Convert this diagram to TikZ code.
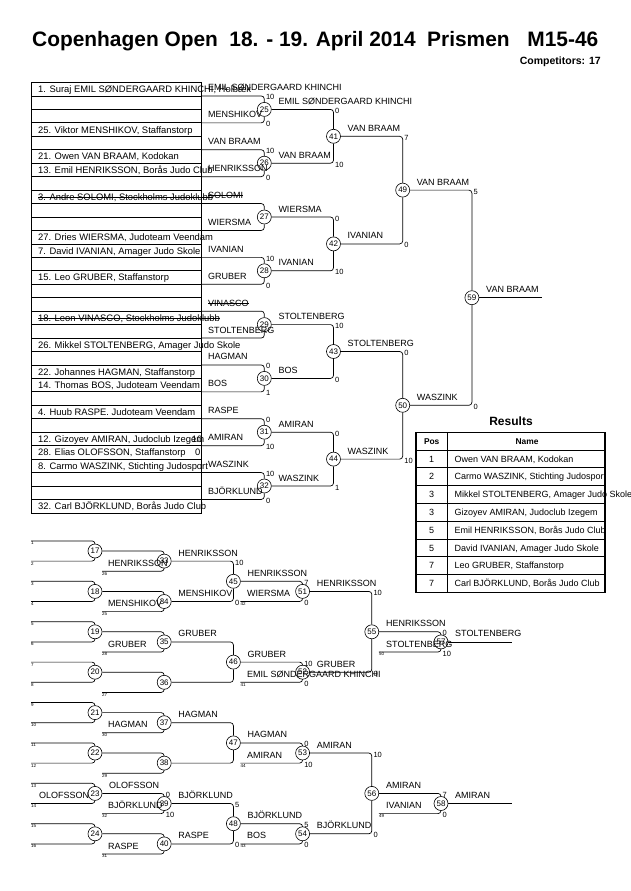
\documentclass[tikz,border=0pt]{standalone}
\usepackage{fontspec}
\setmainfont{Liberation Sans}
\usetikzlibrary{backgrounds}

\tikzset{
  bout/.style={circle,draw,fill=white,line width=0.6pt,inner sep=0pt,minimum size=14pt,font=\fontsize{8}{8}\selectfont},
  judoka/.style={anchor=base west,inner sep=0pt,font=\fontsize{9}{9}\selectfont},
  seed/.style={anchor=base west,inner sep=0pt,font=\fontsize{9.4}{9.4}\selectfont},
  pts/.style={anchor=base west,inner sep=0pt,font=\fontsize{7.5}{7.5}\selectfont},
  slotno/.style={anchor=north west,inner sep=0pt,font=\fontsize{4.5}{4.5}\selectfont},
  wire/.style={line width=0.7pt,rounded corners=3pt},
  sheet/.style={line width=0.8pt},
  struck/.style={line width=0.5pt},
}

\begin{document}
\begin{tikzpicture}[x=1pt,y=-1pt]
\useasboundingbox (0,0) rectangle (630,891);

% header
\node[anchor=base west,inner sep=0pt,font=\fontsize{20.9}{24}\selectfont\bfseries] (title) at (32,46.5) {Copenhagen Open\hspace{0.55em}18. - 19. April 2014\hspace{0.55em}Prismen\hspace{0.85em}M15-46};
\node[anchor=base east,inner sep=0pt,font=\fontsize{10.5}{11}\selectfont\bfseries] (count) at (601,64) {Competitors: 17};

% draw sheet
\draw[sheet] (31,82.5) rectangle (201.7,512.9);
\foreach \k in {1,...,31}
  \draw[sheet] (31,{82.5+13.45*\k}) -- (201.7,{82.5+13.45*\k});

\node[seed] (s1) at (38,92.6) {1. Suraj EMIL SØNDERGAARD KHINCHI, Holbæk};
\node[seed] (s4) at (38,133.0) {25. Viktor MENSHIKOV, Staffanstorp};
\node[seed] (s6) at (38,159.9) {21. Owen VAN BRAAM, Kodokan};
\node[seed] (s7) at (38,173.3) {13. Emil HENRIKSSON, Borås Judo Club};
\node[seed] (s9) at (38,200.2) {3. Andre SOLOMI, Stockholms Judoklubb};
\node[seed] (s12) at (38,240.6) {27. Dries WIERSMA, Judoteam Veendam};
\node[seed] (s13) at (38,254.0) {7. David IVANIAN, Amager Judo Skole};
\node[seed] (s15) at (38,280.9) {15. Leo GRUBER, Staffanstorp};
\node[seed] (s18) at (38,321.3) {18. Leon VINASCO, Stockholms Judoklubb};
\node[seed] (s20) at (38,348.2) {26. Mikkel STOLTENBERG, Amager Judo Skole};
\node[seed] (s22) at (38,375.1) {22. Johannes HAGMAN, Staffanstorp};
\node[seed] (s23) at (38,388.5) {14. Thomas BOS, Judoteam Veendam};
\node[seed] (s25) at (38,415.4) {4. Huub RASPE. Judoteam Veendam};
\node[seed] (s27) at (38,442.3) {12. Gizoyev AMIRAN, Judoclub Izegem};
\node[seed] (s28) at (38,455.8) {28. Elias OLOFSSON, Staffanstorp};
\node[seed] (s29) at (38,469.2) {8. Carmo WASZINK, Stichting Judosport};
\node[seed] (s32) at (38,509.6) {32. Carl BJÖRKLUND, Borås Judo Club};
\node[seed,anchor=base east] (p27) at (202.5,442.3) {10};
\node[seed,anchor=base east] (p28) at (200.5,455.8) {0};
\draw[struck] ([yshift=3.2pt]s9.base west) -- ([yshift=3.2pt]s9.base east);
\draw[struck] ([yshift=3.2pt]s18.base west) -- ([yshift=3.2pt]s18.base east);

% main bouts
\node[bout] (m25) at (264.3,109.4) {25};
\node[bout] (m26) at (264.3,163.2) {26};
\node[bout] (m27) at (264.3,217.0) {27};
\node[bout] (m28) at (264.3,270.8) {28};
\node[bout] (m29) at (264.3,324.6) {29};
\node[bout] (m30) at (264.3,378.4) {30};
\node[bout] (m31) at (264.3,432.2) {31};
\node[bout] (m32) at (264.3,486.0) {32};
\node[bout] (m41) at (333.5,136.3) {41};
\node[bout] (m42) at (333.5,243.9) {42};
\node[bout] (m43) at (333.5,351.5) {43};
\node[bout] (m44) at (333.5,459.1) {44};
\node[bout] (m49) at (402.7,190.1) {49};
\node[bout] (m50) at (402.7,405.3) {50};
\node[bout] (m59) at (471.9,297.7) {59};

% repechage bouts
\foreach \n/\y/\s/\t in {17/551.0/1/2,18/591.4/3/4,19/631.8/5/6,20/672.2/7/8,21/712.6/9/10,22/753.0/11/12,23/793.4/13/14,24/833.8/15/16}{
  \node[bout] (r\n) at (95,\y) {\n};
  \node[slotno] (n\s) at (31,{\y-9.5}) {\s};
  \node[slotno] (n\t) at (31,{\y+10.7}) {\t};
}
\node[bout] (r33) at (164.2,561.1) {33};
\node[bout] (r34) at (164.2,601.5) {34};
\node[bout] (r35) at (164.2,641.9) {35};
\node[bout] (r36) at (164.2,682.3) {36};
\node[bout] (r37) at (164.2,722.7) {37};
\node[bout] (r38) at (164.2,763.1) {38};
\node[bout] (r39) at (164.2,803.5) {39};
\node[bout] (r40) at (164.2,843.9) {40};
\node[bout] (r45) at (233.4,581.3) {45};
\node[bout] (r46) at (233.4,662.1) {46};
\node[bout] (r47) at (233.4,742.9) {47};
\node[bout] (r48) at (233.4,823.7) {48};
\node[bout] (r51) at (302.6,591.4) {51};
\node[bout] (r52) at (302.6,672.2) {52};
\node[bout] (r53) at (302.6,753.0) {53};
\node[bout] (r54) at (302.6,833.8) {54};
\node[bout] (r55) at (371.8,631.8) {55};
\node[bout] (r56) at (371.8,793.4) {56};
\node[bout] (r57) at (441.0,641.9) {57};
\node[bout] (r58) at (441.0,803.5) {58};

\begin{scope}[on background layer]
% main tree
\draw[wire] (201.7,95.95) coordinate (a25) -| (m25);
\draw[wire] (201.7,122.85) coordinate (b25) -| (m25);
\draw[wire] (201.7,149.75) coordinate (a26) -| (m26);
\draw[wire] (201.7,176.65) coordinate (b26) -| (m26);
\draw[wire] (201.7,203.55) coordinate (a27) -| (m27);
\draw[wire] (201.7,230.45) coordinate (b27) -| (m27);
\draw[wire] (201.7,257.35) coordinate (a28) -| (m28);
\draw[wire] (201.7,284.25) coordinate (b28) -| (m28);
\draw[wire] (201.7,311.15) coordinate (a29) -| (m29);
\draw[wire] (201.7,338.05) coordinate (b29) -| (m29);
\draw[wire] (201.7,364.95) coordinate (a30) -| (m30);
\draw[wire] (201.7,391.85) coordinate (b30) -| (m30);
\draw[wire] (201.7,418.75) coordinate (a31) -| (m31);
\draw[wire] (201.7,445.65) coordinate (b31) -| (m31);
\draw[wire] (201.7,472.55) coordinate (a32) -| (m32);
\draw[wire] (201.7,499.45) coordinate (b32) -| (m32);
\draw[wire] (m25) -| (m41); \draw[wire] (m26) -| (m41);
\draw[wire] (m27) -| (m42); \draw[wire] (m28) -| (m42);
\draw[wire] (m29) -| (m43); \draw[wire] (m30) -| (m43);
\draw[wire] (m31) -| (m44); \draw[wire] (m32) -| (m44);
\draw[wire] (m41) -| (m49); \draw[wire] (m42) -| (m49);
\draw[wire] (m43) -| (m50); \draw[wire] (m44) -| (m50);
\draw[wire] (m49) -| (m59); \draw[wire] (m50) -| (m59);
\draw[wire] (m59) -- (541.7,297.7) coordinate (champ);
% repechage tree
\foreach \n/\y in {17/551.0,18/591.4,19/631.8,20/672.2,21/712.6,22/753.0,23/793.4,24/833.8}{
  \draw[wire] (31,{\y-10.1}) coordinate (a\n) -| (r\n);
  \draw[wire] (31,{\y+10.1}) coordinate (b\n) -| (r\n);
}
\draw[wire] (r17) -| (r33); \draw[wire] (102,571.2) coordinate (b33) -| (r33);
\draw[wire] (r18) -| (r34); \draw[wire] (102,611.6) coordinate (b34) -| (r34);
\draw[wire] (r19) -| (r35); \draw[wire] (102,652.0) coordinate (b35) -| (r35);
\draw[wire] (r20) -| (r36); \draw[wire] (102,692.4) coordinate (b36) -| (r36);
\draw[wire] (r21) -| (r37); \draw[wire] (102,732.8) coordinate (b37) -| (r37);
\draw[wire] (r22) -| (r38); \draw[wire] (102,773.2) coordinate (b38) -| (r38);
\draw[wire] (r23) -| (r39); \draw[wire] (102,813.6) coordinate (b39) -| (r39);
\draw[wire] (r24) -| (r40); \draw[wire] (102,854.0) coordinate (b40) -| (r40);
\draw[wire] (r33) -| (r45); \draw[wire] (r34) -| (r45);
\draw[wire] (r35) -| (r46); \draw[wire] (r36) -| (r46);
\draw[wire] (r37) -| (r47); \draw[wire] (r38) -| (r47);
\draw[wire] (r39) -| (r48); \draw[wire] (r40) -| (r48);
\draw[wire] (r45) -| (r51); \draw[wire] (240.4,601.5) coordinate (b51) -| (r51);
\draw[wire] (r46) -| (r52); \draw[wire] (240.4,682.3) coordinate (b52) -| (r52);
\draw[wire] (r47) -| (r53); \draw[wire] (240.4,763.1) coordinate (b53) -| (r53);
\draw[wire] (r48) -| (r54); \draw[wire] (240.4,843.9) coordinate (b54) -| (r54);
\draw[wire] (r51) -| (r55); \draw[wire] (r52) -| (r55);
\draw[wire] (r53) -| (r56); \draw[wire] (r54) -| (r56);
\draw[wire] (r55) -| (r57); \draw[wire] (378.8,652.0) coordinate (b57) -| (r57);
\draw[wire] (r56) -| (r58); \draw[wire] (378.8,813.6) coordinate (b58) -| (r58);
\draw[wire] (r57) -- (511.7,641.9) coordinate (bronze1);
\draw[wire] (r58) -- (511.7,803.5) coordinate (bronze2);
\end{scope}

% names going into the main bouts
\node[judoka] (e25a) at (208,90.95) {EMIL SØNDERGAARD KHINCHI};
\node[judoka] (e25b) at (208,117.85) {MENSHIKOV};
\node[judoka] (e26a) at (208,144.75) {VAN BRAAM};
\node[judoka] (e26b) at (208,171.65) {HENRIKSSON};
\node[judoka] (e27a) at (208,198.55) {SOLOMI};
\node[judoka] (e27b) at (208,225.45) {WIERSMA};
\node[judoka] (e28a) at (208,252.35) {IVANIAN};
\node[judoka] (e28b) at (208,279.25) {GRUBER};
\node[judoka] (e29a) at (208,306.15) {VINASCO};
\node[judoka] (e29b) at (208,333.05) {STOLTENBERG};
\node[judoka] (e30a) at (208,359.95) {HAGMAN};
\node[judoka] (e30b) at (208,386.85) {BOS};
\node[judoka] (e31a) at (208,413.75) {RASPE};
\node[judoka] (e31b) at (208,440.65) {AMIRAN};
\node[judoka] (e32a) at (208,467.55) {WASZINK};
\node[judoka] (e32b) at (208,494.45) {BJÖRKLUND};
\draw[struck] ([yshift=3.1pt]e27a.base west) -- ([yshift=3.1pt]e27a.base east);
\draw[struck] ([yshift=3.1pt]e29a.base west) -- ([yshift=3.1pt]e29a.base east);
% winners
\node[judoka] (w25) at (278.3,104.4) {EMIL SØNDERGAARD KHINCHI};
\node[judoka] (w26) at (278.3,158.2) {VAN BRAAM};
\node[judoka] (w27) at (278.3,212.0) {WIERSMA};
\node[judoka] (w28) at (278.3,265.8) {IVANIAN};
\node[judoka] (w29) at (278.3,319.6) {STOLTENBERG};
\node[judoka] (w30) at (278.3,373.4) {BOS};
\node[judoka] (w31) at (278.3,427.2) {AMIRAN};
\node[judoka] (w32) at (278.3,481.0) {WASZINK};
\node[judoka] (w41) at (347.5,131.3) {VAN BRAAM};
\node[judoka] (w42) at (347.5,238.9) {IVANIAN};
\node[judoka] (w43) at (347.5,346.5) {STOLTENBERG};
\node[judoka] (w44) at (347.5,454.1) {WASZINK};
\node[judoka] (w49) at (416.7,185.1) {VAN BRAAM};
\node[judoka] (w50) at (416.7,400.3) {WASZINK};
\node[judoka] (w59) at (486,292.7) {VAN BRAAM};
% scores
\node[pts] (t25) at (265.8,99.95) {10};  \node[pts] (u25) at (265.8,126.85) {0};
\node[pts] (t26) at (265.8,153.75) {10}; \node[pts] (u26) at (265.8,180.65) {0};
\node[pts] (t28) at (265.8,261.35) {10}; \node[pts] (u28) at (265.8,288.25) {0};
\node[pts] (t30) at (265.8,368.95) {0};  \node[pts] (u30) at (265.8,395.85) {1};
\node[pts] (t31) at (265.8,422.75) {0};  \node[pts] (u31) at (265.8,449.65) {10};
\node[pts] (t32) at (265.8,476.55) {10}; \node[pts] (u32) at (265.8,503.45) {0};
\node[pts] (t41) at (335,113.4) {0};  \node[pts] (u41) at (335,167.2) {10};
\node[pts] (t42) at (335,221.0) {0};  \node[pts] (u42) at (335,274.8) {10};
\node[pts] (t43) at (335,328.6) {10}; \node[pts] (u43) at (335,382.4) {0};
\node[pts] (t44) at (335,436.2) {0};  \node[pts] (u44) at (335,490.0) {1};
\node[pts] (t49) at (404.2,140.3) {7}; \node[pts] (u49) at (404.2,247.9) {0};
\node[pts] (t50) at (404.2,355.5) {0}; \node[pts] (u50) at (404.2,463.1) {10};
\node[pts] (t59) at (473.4,194.1) {5}; \node[pts] (u59) at (473.4,409.3) {0};

% repechage names
\node[judoka] (f23) at (39,798.5) {OLOFSSON};
\node[judoka] (f33) at (108,566.2) {HENRIKSSON};
\node[judoka] (f34) at (108,606.6) {MENSHIKOV};
\node[judoka] (f35) at (108,647.0) {GRUBER};
\node[judoka] (f37) at (108,727.8) {HAGMAN};
\node[judoka] (f39) at (108,808.6) {BJÖRKLUND};
\node[judoka] (f40) at (108,849.0) {RASPE};
\node[judoka] (f51) at (247,596.5) {WIERSMA};
\node[judoka] (f52) at (247,677.3) {EMIL SØNDERGAARD KHINCHI};
\node[judoka] (f53) at (247,758.1) {AMIRAN};
\node[judoka] (f54) at (247,838.9) {BOS};
\node[judoka] (f57) at (386,647.0) {STOLTENBERG};
\node[judoka] (f58) at (386,808.6) {IVANIAN};
\node[slotno] (n26) at (102,571.8) {26};
\node[slotno] (n25) at (102,612.2) {25};
\node[slotno] (n28) at (102,652.6) {28};
\node[slotno] (n27) at (102,693.0) {27};
\node[slotno] (n30) at (102,733.4) {30};
\node[slotno] (n29) at (102,773.8) {29};
\node[slotno] (n32) at (102,814.2) {32};
\node[slotno] (n31) at (102,854.6) {31};
\node[slotno] (n42) at (240.4,602.1) {42};
\node[slotno] (n41) at (240.4,682.9) {41};
\node[slotno] (n44) at (240.4,763.7) {44};
\node[slotno] (n43) at (240.4,844.5) {43};
\node[slotno] (n50) at (378.8,652.6) {50};
\node[slotno] (n49) at (378.8,814.2) {49};
% repechage winners
\node[judoka] (v23) at (109,788.4) {OLOFSSON};
\node[judoka] (v33) at (178.2,556.1) {HENRIKSSON};
\node[judoka] (v34) at (178.2,596.5) {MENSHIKOV};
\node[judoka] (v35) at (178.2,636.9) {GRUBER};
\node[judoka] (v37) at (178.2,717.7) {HAGMAN};
\node[judoka] (v39) at (178.2,798.5) {BJÖRKLUND};
\node[judoka] (v40) at (178.2,838.9) {RASPE};
\node[judoka] (v45) at (247.4,576.3) {HENRIKSSON};
\node[judoka] (v46) at (247.4,657.1) {GRUBER};
\node[judoka] (v47) at (247.4,737.9) {HAGMAN};
\node[judoka] (v48) at (247.4,818.7) {BJÖRKLUND};
\node[judoka] (v51) at (316.6,586.4) {HENRIKSSON};
\node[judoka] (v52) at (316.6,667.2) {GRUBER};
\node[judoka] (v53) at (316.6,748.0) {AMIRAN};
\node[judoka] (v54) at (316.6,828.8) {BJÖRKLUND};
\node[judoka] (v55) at (385.8,626.8) {HENRIKSSON};
\node[judoka] (v56) at (385.8,788.4) {AMIRAN};
\node[judoka] (v57) at (455,636.9) {STOLTENBERG};
\node[judoka] (v58) at (455,798.5) {AMIRAN};
% repechage scores
\node[pts] (t39) at (165.7,797.4) {0};  \node[pts] (u39) at (165.7,817.6) {10};
\node[pts] (t45) at (234.9,565.1) {10}; \node[pts] (u45) at (234.9,605.5) {0};
\node[pts] (t48) at (234.9,807.5) {5};  \node[pts] (u48) at (234.9,847.9) {0};
\node[pts] (t51) at (304.1,585.3) {7};  \node[pts] (u51) at (304.1,605.5) {0};
\node[pts] (t52) at (304.1,666.1) {10}; \node[pts] (u52) at (304.1,686.3) {0};
\node[pts] (t53) at (304.1,746.9) {0};  \node[pts] (u53) at (304.1,767.1) {10};
\node[pts] (t54) at (304.1,827.7) {5};  \node[pts] (u54) at (304.1,847.9) {0};
\node[pts] (t55) at (373.3,595.4) {10}; \node[pts] (u55) at (373.3,676.2) {0};
\node[pts] (t56) at (373.3,757.0) {10}; \node[pts] (u56) at (373.3,837.8) {0};
\node[pts] (t57) at (442.5,635.8) {0};  \node[pts] (u57) at (442.5,656.0) {10};
\node[pts] (t58) at (442.5,797.4) {7};  \node[pts] (u58) at (442.5,817.6) {0};

% results table
\node[inner sep=0pt,font=\fontsize{12}{12}\selectfont\bfseries] (res) at (511,421) {Results};
\draw[sheet] (415.7,450) -- (605,450);
\draw[sheet] (415.7,467.8) -- (605,467.8);
\draw[sheet] (415.7,485.6) -- (605,485.6);
\draw[sheet] (415.7,503.4) -- (605,503.4);
\draw[sheet] (415.7,521.2) -- (605,521.2);
\draw[sheet] (415.7,539.0) -- (605,539.0);
\draw[sheet] (415.7,556.8) -- (605,556.8);
\draw[sheet] (415.7,574.6) -- (605,574.6);
\draw[sheet] (447.7,432.3) -- (447.7,592.4);
\node[anchor=base,inner sep=0pt,font=\fontsize{8.4}{9}\selectfont\bfseries] (hpos) at (431.7,444.3) {Pos};
\node[anchor=base,inner sep=0pt,font=\fontsize{8.4}{9}\selectfont\bfseries] (hname) at (527,444.3) {Name};
\node[judoka,anchor=base] (q1) at (431.7,462.1) {1};
\node[judoka] (o1) at (454.3,462.1) {Owen VAN BRAAM, Kodokan};
\node[judoka,anchor=base] (q2) at (431.7,479.9) {2};
\node[judoka] (o2) at (454.3,479.9) {Carmo WASZINK, Stichting Judosport};
\node[judoka,anchor=base] (q3) at (431.7,497.7) {3};
\node[judoka] (o3) at (454.3,497.7) {Mikkel STOLTENBERG, Amager Judo Skole};
\node[judoka,anchor=base] (q4) at (431.7,515.5) {3};
\node[judoka] (o4) at (454.3,515.5) {Gizoyev AMIRAN, Judoclub Izegem};
\node[judoka,anchor=base] (q5) at (431.7,533.3) {5};
\node[judoka] (o5) at (454.3,533.3) {Emil HENRIKSSON, Borås Judo Club};
\node[judoka,anchor=base] (q6) at (431.7,551.1) {5};
\node[judoka] (o6) at (454.3,551.1) {David IVANIAN, Amager Judo Skole};
\node[judoka,anchor=base] (q7) at (431.7,568.9) {7};
\node[judoka] (o7) at (454.3,568.9) {Leo GRUBER, Staffanstorp};
\node[judoka,anchor=base] (q8) at (431.7,586.7) {7};
\node[judoka] (o8) at (454.3,586.7) {Carl BJÖRKLUND, Borås Judo Club};
\draw[line width=1.6pt] (415.7,432.3) rectangle (605,592.4);
\end{tikzpicture}
\end{document}
